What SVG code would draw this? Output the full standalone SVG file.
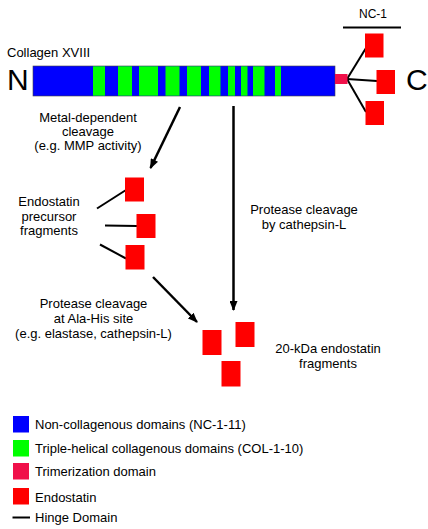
<svg xmlns="http://www.w3.org/2000/svg" width="428" height="529" viewBox="0 0 428 529">
<defs>
<marker id="ah" viewBox="0 0 10 8" refX="9" refY="4" markerWidth="10" markerHeight="8" markerUnits="userSpaceOnUse" orient="auto">
<path d="M0,0 L10,4 L0,8 Z" fill="#000"/>
</marker>
</defs>
<style>
text{font-family:"Liberation Sans",Arial,sans-serif;font-size:13px;fill:#000}
.c{text-anchor:middle}
.nc{fill:#0000FF}
.col{fill:#00FF00}
.tri{fill:#F0104A}
.endo{fill:#FF0000}
.hinge{stroke:#000;stroke-width:2;fill:none}
.arr{stroke:#000;stroke-width:2.5;fill:none;marker-end:url(#ah)}
</style>
<rect width="428" height="529" fill="#fff"/>

<g id="collagen">
<text x="7" y="57">Collagen XVIII</text>
<text x="7" y="90" style="font-size:30px">N</text>
<text x="406" y="90" style="font-size:30px">C</text>
<rect x="33" y="66" width="302" height="30" class="nc" stroke="#444" stroke-width="0.6"/>
<rect x="93" y="66.3" width="12" height="29.4" class="col"/>
<rect x="118" y="66.3" width="14" height="29.4" class="col"/>
<rect x="139" y="66.3" width="19" height="29.4" class="col"/>
<rect x="165.5" y="66.3" width="14" height="29.4" class="col"/>
<rect x="187" y="66.3" width="14" height="29.4" class="col"/>
<rect x="209" y="66.3" width="11.5" height="29.4" class="col"/>
<rect x="228" y="66.3" width="7" height="29.4" class="col"/>
<rect x="241" y="66.3" width="6.5" height="29.4" class="col"/>
<rect x="253" y="66.3" width="11.5" height="29.4" class="col"/>
<rect x="275" y="66.3" width="6" height="29.4" class="col"/>
</g>

<g id="nc1">
<text x="373" y="18" class="c" style="font-size:12px">NC-1</text>
<line x1="343" y1="27.5" x2="401" y2="27.5" class="hinge"/>
<line x1="347" y1="79" x2="366" y2="48" class="hinge"/>
<line x1="347" y1="79" x2="377" y2="81" class="hinge"/>
<line x1="347" y1="79" x2="366" y2="112" class="hinge"/>
<rect x="335" y="74" width="12.5" height="10" class="tri"/>
<rect x="365" y="33.5" width="18.5" height="24" class="endo"/>
<rect x="376.5" y="70" width="18.5" height="24" class="endo"/>
<rect x="365.5" y="101" width="18.5" height="24" class="endo"/>
</g>

<g id="precursor">
<text x="49" y="206" class="c">Endostatin</text>
<text x="49" y="220.5" class="c">precursor</text>
<text x="49" y="235" class="c">fragments</text>
<line x1="97" y1="208.5" x2="126" y2="190" class="hinge"/>
<line x1="105" y1="225.5" x2="137" y2="226" class="hinge"/>
<line x1="100" y1="244.5" x2="126" y2="258.5" class="hinge"/>
<rect x="125" y="177.5" width="19" height="24" class="endo"/>
<rect x="136.5" y="214" width="19" height="24" class="endo"/>
<rect x="125.5" y="245" width="19" height="24.5" class="endo"/>
</g>

<g id="fragments">
<rect x="202.5" y="330" width="19" height="25" class="endo"/>
<rect x="235.5" y="322" width="19" height="25" class="endo"/>
<rect x="221.5" y="361" width="19" height="25.5" class="endo"/>
<text x="328" y="353" class="c">20-kDa endostatin</text>
<text x="328" y="367.5" class="c">fragments</text>
</g>

<g id="labels">
<text x="88" y="122" class="c">Metal-dependent</text>
<text x="88" y="136" class="c">cleavage</text>
<text x="88" y="150" class="c">(e.g. MMP activity)</text>
<text x="304" y="214" class="c">Protease cleavage</text>
<text x="304" y="229" class="c">by cathepsin-L</text>
<text x="93.5" y="307.5" class="c">Protease cleavage</text>
<text x="93.5" y="322.5" class="c">at Ala-His site</text>
<text x="93.5" y="337.5" class="c">(e.g. elastase, cathepsin-L)</text>
</g>

<g id="connectors">
<line x1="180" y1="107" x2="150.5" y2="168" class="arr"/>
<line x1="233.5" y1="106" x2="233.5" y2="310" class="arr"/>
<line x1="153" y1="277" x2="197" y2="322" class="arr"/>
</g>

<g id="legend">
<rect x="13" y="416" width="16" height="16.5" class="nc"/>
<text x="35" y="428.5">Non-collagenous domains (NC-1-11)</text>
<rect x="13" y="440" width="16" height="16.5" class="col"/>
<text x="35" y="453">Triple-helical collagenous domains (COL-1-10)</text>
<rect x="13" y="463" width="16" height="16.5" class="tri"/>
<text x="35" y="475.5">Trimerization domain</text>
<rect x="13" y="488" width="16" height="16.5" class="endo"/>
<text x="35" y="501.5">Endostatin</text>
<line x1="12.5" y1="517.5" x2="30" y2="517.5" class="hinge"/>
<text x="35" y="522">Hinge Domain</text>
</g>
</svg>
